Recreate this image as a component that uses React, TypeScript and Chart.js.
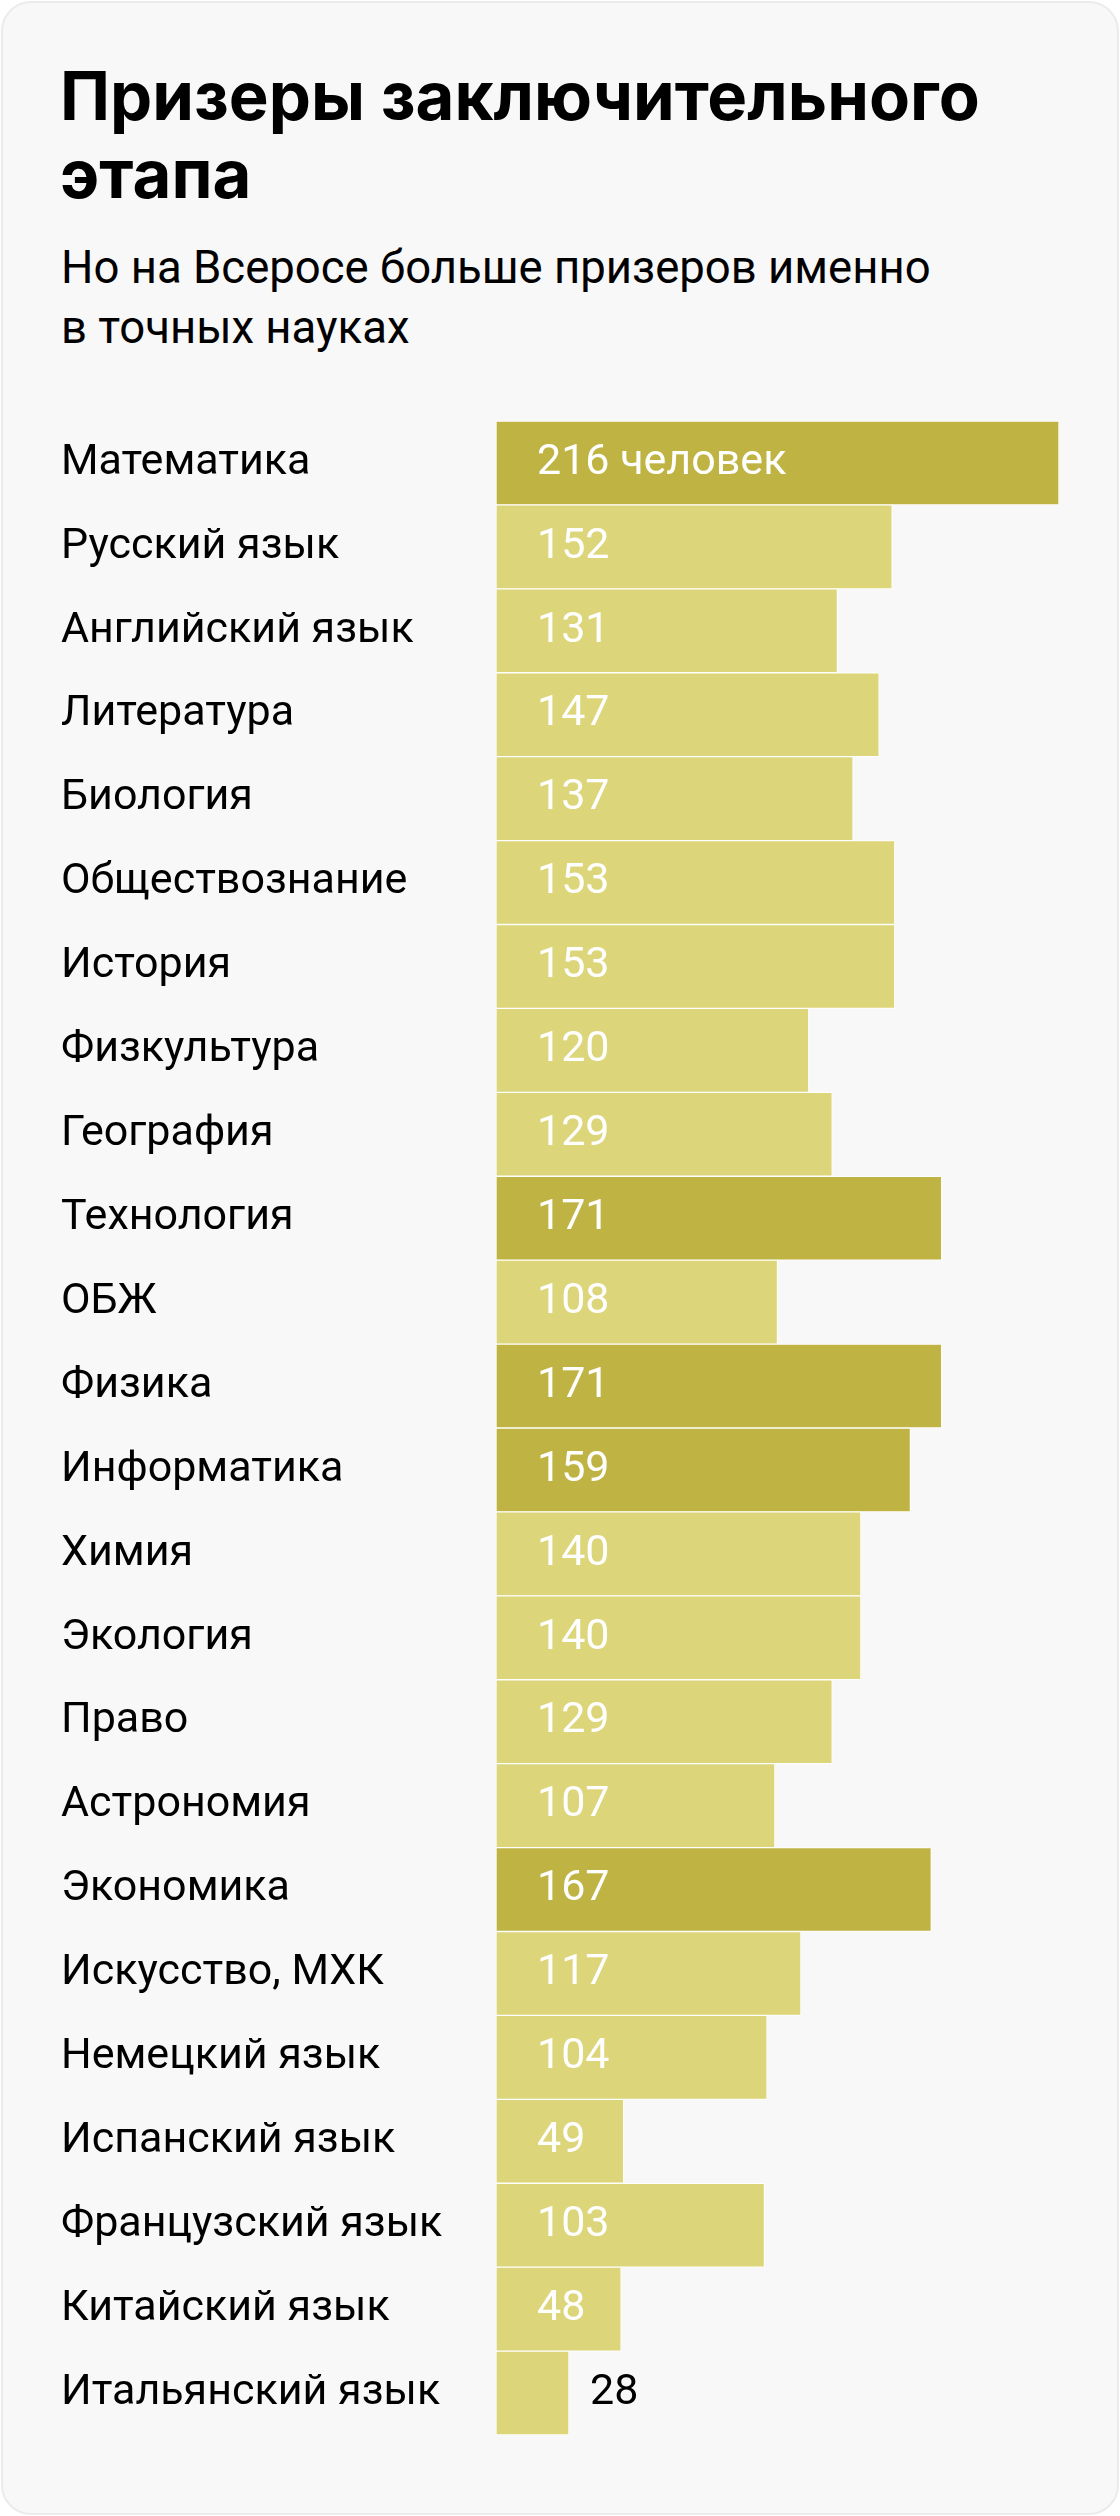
import React, { useEffect, useRef } from "react";
import { Chart, registerables } from "chart.js";

Chart.register(...registerables);

const categories = [
  "Математика",
  "Русский язык",
  "Английский язык",
  "Литература",
  "Биология",
  "Обществознание",
  "История",
  "Физкультура",
  "География",
  "Технология",
  "ОБЖ",
  "Физика",
  "Информатика",
  "Химия",
  "Экология",
  "Право",
  "Астрономия",
  "Экономика",
  "Искусство, МХК",
  "Немецкий язык",
  "Испанский язык",
  "Французский язык",
  "Китайский язык",
  "Итальянский язык",
];

const values = [216, 152, 131, 147, 137, 153, 153, 120, 129, 171, 108, 171, 159, 140, 140, 129, 107, 167, 117, 104, 49, 103, 48, 28];

const highlighted = ["Математика", "Технология", "Физика", "Информатика", "Экономика"];

const firstLabelSuffix = " человек";

const DARK = "#BFB443";
const LIGHT = "#DDD57A";
const FONT = "Roboto, 'Noto Sans', sans-serif";
const TITLE_FONT = "Inter, Roboto, sans-serif";

export default function App() {
  const canvasRef = useRef<HTMLCanvasElement | null>(null);

  useEffect(() => {
    document.body.style.margin = "0";
    const canvas = canvasRef.current;
    if (!canvas) return;

    const valueLabels = {
      id: "valueLabels",
      afterDatasetsDraw(chart: any) {
        const ctx = chart.ctx;
        const meta = chart.getDatasetMeta(0);
        ctx.save();
        ctx.font = `400 43px ${FONT}`;
        ctx.textBaseline = "middle";
        ctx.textAlign = "left";
        meta.data.forEach((bar: any, i: number) => {
          const text = String(values[i]) + (i === 0 ? firstLabelSuffix : "");
          const w = ctx.measureText(text).width;
          const barW = bar.x - bar.base;
          if (w + 41 + 8 < barW) {
            ctx.fillStyle = "#ffffff";
            ctx.fillText(text, bar.base + 41, bar.y);
          } else {
            ctx.fillStyle = "#000000";
            ctx.fillText(text, bar.x + 21, bar.y);
          }
        });
        ctx.restore();
      },
    };

    const chart = new Chart(canvas, {
      type: "bar",
      data: {
        labels: categories,
        datasets: [
          {
            data: values,
            backgroundColor: categories.map((c) => (highlighted.includes(c) ? DARK : LIGHT)),
            borderColor: "#ffffff",
            borderWidth: 1,
            borderSkipped: false,
            barPercentage: 1,
            categoryPercentage: 1,
          },
        ],
      },
      options: {
        indexAxis: "y",
        animation: false,
        responsive: false,
        maintainAspectRatio: false,
        layout: { padding: 0 },
        plugins: {
          legend: { display: false },
          tooltip: { enabled: false },
          title: { display: false },
        },
        scales: {
          x: {
            display: false,
            min: 0,
            max: 216,
          },
          y: {
            grid: { display: false },
            border: { display: false },
            ticks: {
              color: "#000000",
              font: { family: FONT, size: 43, weight: "400" },
              crossAlign: "far",
              padding: 0,
            },
            afterFit(scale: any) {
              scale.width = 435;
              scale.paddingTop = 0;
              scale.paddingBottom = 0;
            },
          },
        },
      },
      plugins: [valueLabels],
    });

    return () => chart.destroy();
  }, []);

  return (
    <div
      style={{
        position: "absolute",
        left: 1,
        top: 1,
        width: 1118,
        height: 2514,
        boxSizing: "border-box",
        border: "2px solid #EBEBEB",
        borderRadius: 30,
        background: "#F8F8F8",
      }}
    >
      <div
        style={{
          position: "absolute",
          left: 57,
          top: 54,
          fontFamily: TITLE_FONT,
          fontWeight: 700,
          fontSize: 67,
          lineHeight: "78px",
          color: "#000",
          width: 1050,
          whiteSpace: "nowrap",
        }}
      >
        Призеры заключительного
        <br />
        этапа
      </div>
      <div
        style={{
          position: "absolute",
          left: 58,
          top: 235,
          fontFamily: FONT,
          fontWeight: 400,
          fontSize: 45.5,
          lineHeight: "60px",
          color: "#000",
          width: 1050,
          whiteSpace: "nowrap",
        }}
      >
        Но на Всеросе больше призеров именно
        <br />
        в точных науках
      </div>
      <canvas
        ref={canvasRef}
        width={998}
        height={2014}
        style={{ position: "absolute", left: 58, top: 418, width: 998, height: 2014 }}
      />
    </div>
  );
}
